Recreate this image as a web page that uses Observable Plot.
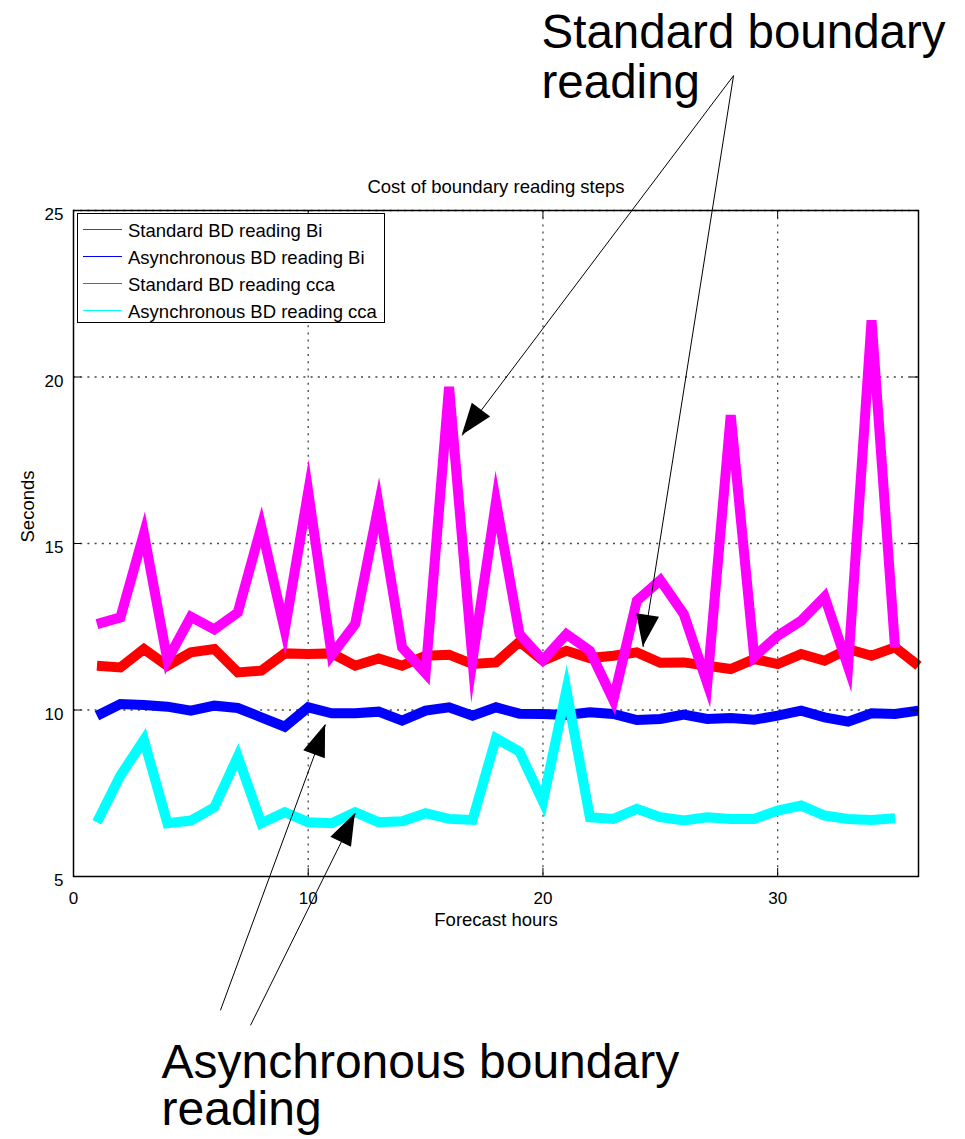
<!DOCTYPE html>
<html><head><meta charset="utf-8">
<script src="https://cdn.jsdelivr.net/npm/d3@7"></script>
<script src="https://cdn.jsdelivr.net/npm/@observablehq/plot@0.6"></script>
<style>
body{margin:0;background:#fff;}
#wrap{position:relative;width:965px;height:1139px;font-family:"Liberation Sans",Arial,sans-serif;}
#legend{position:absolute;left:77px;top:213px;width:308px;height:110px;border:1px solid #000;background:#fff;box-sizing:border-box;}
.row{position:absolute;white-space:nowrap;font-size:18.5px;line-height:1;color:#000;}
.sw{position:absolute;height:1px;}
</style></head><body><div id="wrap"></div>
<script>
// ---- data ----
const hours = [1,2,3,4,5,6,7,8,9,10,11,12,13,14,15,16,17,18,19,20,21,22,23,24,25,26,27,28,29,30,31,32,33,34,35,36];
const stdBi = [11.33,11.28,11.83,11.33,11.73,11.83,11.13,11.18,11.70,11.68,11.70,11.33,11.55,11.33,11.63,11.66,11.38,11.43,12.05,11.48,11.78,11.56,11.63,11.73,11.42,11.43,11.33,11.23,11.53,11.38,11.68,11.48,11.83,11.63,11.88,11.33];
const asyncBi = [9.83,10.18,10.15,10.10,9.98,10.13,10.06,9.78,9.50,10.08,9.90,9.90,9.95,9.68,9.98,10.08,9.83,10.08,9.89,9.88,9.85,9.93,9.88,9.70,9.73,9.86,9.73,9.76,9.71,9.83,9.98,9.78,9.65,9.90,9.88,9.98];
const stdCca = [12.58,12.78,15.3,11.5,12.8,12.42,12.93,15.5,12.4,16.55,11.65,12.58,16.15,11.88,11.1,19.7,11.5,16.25,12.28,11.5,12.28,11.78,10.3,13.28,13.9,12.88,10.8,18.85,11.6,12.23,12.68,13.4,11.3,21.7,11.88];
const asyncCca = [6.63,8.03,9.1,6.6,6.68,7.08,8.6,6.6,6.93,6.63,6.6,6.93,6.63,6.66,6.9,6.73,6.7,9.15,8.75,7.25,10.6,6.78,6.73,7.03,6.78,6.68,6.78,6.73,6.73,6.98,7.13,6.83,6.73,6.7,6.75];
const seriesNames = ["Standard BD reading Bi","Asynchronous BD reading Bi","Standard BD reading cca","Asynchronous BD reading cca"];
const seriesColors = ["#ff0000","#0000ff","#ff00ff","#00ffff"];
const seriesValues = [stdBi, asyncBi, stdCca, asyncCca];
const xTicks = [0,10,20,30];
const yTicks = [5,10,15,20,25];
const xGrid = [10,20,30];
const yGrid = [10,15,20,25];
const titleText = "Cost of boundary reading steps";
const xLabel = "Forecast hours";
const yLabel = "Seconds";
// annotations (data units)
const annoText = ["Standard boundary\nreading","Asynchronous boundary\nreading"];
const annoX = [19.94, 3.75];
const annoY = [30.92, -0.03];
const annoFont = [47.5, 48];
const annoLineHeight = [1.04, 0.985];
const arrowStartX = [28.12, 28.12, 6.26, 7.54];
const arrowStartY = [29.05, 29.05, 0.98, 0.53];
const arrowTipX = [16.56, 24.27, 10.74, 12.01];
const arrowTipY = [18.24, 11.89, 9.56, 6.89];

// ---- layout ----
const W = 965, H = 1139, mL = 73, mR = 47, mT = 210, mB = 263;
const xDomain = [0, 36], yDomain = [5, 25];
const plotW = W - mL - mR, plotH = H - mT - mB;
const sx = Plot.scale({x: {domain: xDomain, range: [mL, W - mR]}});
const sy = Plot.scale({y: {domain: yDomain, range: [H - mB, mT]}});

const lineData = seriesValues.map((vals, s) => vals.map((v, i) => ({x: hours[i], y: v, s})));

// arrow heads as filled triangles (through scales)
const headLen = 32, headHalf = 11.5;
const heads = [];
arrowTipX.forEach((_, i) => {
  const px = sx.apply(arrowTipX[i]), py = sy.apply(arrowTipY[i]);
  const qx = sx.apply(arrowStartX[i]), qy = sy.apply(arrowStartY[i]);
  const L = Math.hypot(px - qx, py - qy), ux = (px - qx) / L, uy = (py - qy) / L;
  const bx = px - ux * headLen, by = py - uy * headLen;
  heads.push({id: i, x1: arrowTipX[i], y1: arrowTipY[i], x2: arrowTipX[i], y2: arrowTipY[i]});
  heads.push({id: i,
    x1: sx.invert(bx - uy * headHalf), y1: sy.invert(by + ux * headHalf),
    x2: sx.invert(bx + uy * headHalf), y2: sy.invert(by - ux * headHalf)});
});
const arrowIdx = arrowTipX.map((_, i) => i);

const marks = [
  Plot.ruleX(xGrid, {x: d => d, stroke: "#444", strokeWidth: 1.3, strokeDasharray: "2,5.2"}),
  Plot.ruleY(yGrid, {y: d => d, stroke: "#444", strokeWidth: 1.3, strokeDasharray: "2,5.2"}),
];
lineData.forEach((d, s) => {
  marks.push(Plot.line(d, {x: "x", y: "y", stroke: seriesColors[s], strokeWidth: 10,
    strokeLinejoin: "miter", strokeMiterlimit: 10, strokeLinecap: "butt"}));
});
marks.push(
  Plot.tickX(xTicks, {x: d => d, insetTop: plotH - 8, stroke: "#000"}),
  Plot.tickX(xTicks, {x: d => d, insetBottom: plotH - 8, stroke: "#000"}),
  Plot.tickY(yTicks, {y: d => d, insetRight: plotW - 8, stroke: "#000"}),
  Plot.tickY(yTicks, {y: d => d, insetLeft: plotW - 8, stroke: "#000"}),
  Plot.frame({stroke: "#000", strokeWidth: 1.5}),
  Plot.axisX({ticks: xTicks, tickSize: 0, tickPadding: 15, fontSize: 17, label: null}),
  Plot.axisY({ticks: yTicks, tickSize: 0, tickPadding: 10, dy: 4.5, fontSize: 17, label: null}),
  Plot.text([titleText], {frameAnchor: "top", dy: -23, fontSize: 18.5, lineAnchor: "middle"}),
  Plot.text([xLabel], {frameAnchor: "bottom", dy: 44, fontSize: 18.5, lineAnchor: "middle"}),
  Plot.text([yLabel], {frameAnchor: "left", dx: -45.5, dy: -1, rotate: -90, fontSize: 18.5, lineAnchor: "middle"}),
  Plot.link(arrowIdx, {x1: i => arrowStartX[i], y1: i => arrowStartY[i], x2: i => arrowTipX[i], y2: i => arrowTipY[i], stroke: "#000", strokeWidth: 1}),
  Plot.area(heads, {x1: "x1", y1: "y1", x2: "x2", y2: "y2", z: "id", fill: "#000"})
);
annoText.forEach((t, i) => {
  marks.push(Plot.text([t], {x: () => annoX[i], y: () => annoY[i], fontSize: annoFont[i],
    textAnchor: "start", lineAnchor: "top", lineHeight: annoLineHeight[i], fill: "#000"}));
});

const chart = Plot.plot({
  width: W, height: H,
  marginLeft: mL, marginRight: mR, marginTop: mT, marginBottom: mB,
  x: {domain: xDomain},
  y: {domain: yDomain},
  style: {fontFamily: "Liberation Sans, Arial, sans-serif", background: "#fff", color: "#000", overflow: "visible"},
  marks
});
const wrap = document.getElementById("wrap");
wrap.appendChild(chart);

// legend overlay
const legend = document.createElement("div");
legend.id = "legend";
const rowBase = [237.5, 264.5, 291.5, 318.5];
seriesNames.forEach((name, i) => {
  const sw = document.createElement("div");
  sw.className = "sw";
  sw.style.background = seriesColors[i];
  sw.style.left = (83 - 78) + "px";
  sw.style.width = "39px";
  sw.style.top = Math.round(rowBase[i] - 8.5 - 214) + "px";
  legend.appendChild(sw);
  const t = document.createElement("div");
  t.className = "row";
  t.textContent = name;
  t.style.left = (128 - 78) + "px";
  t.style.top = Math.round(rowBase[i] - 15.7 - 214) + "px";
  legend.appendChild(t);
});
wrap.appendChild(legend);
</script>
</body></html>
